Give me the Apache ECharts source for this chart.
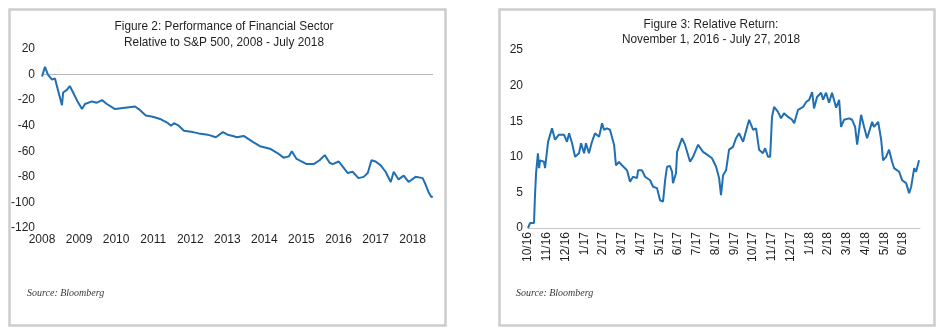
<!DOCTYPE html>
<html>
<head>
<meta charset="utf-8">
<script src="https://cdn.jsdelivr.net/npm/echarts@6/dist/echarts.min.js"></script>
<style>
html,body{margin:0;padding:0;background:#fff;}
#c{width:944px;height:335px;}
</style>
</head>
<body>
<div id="c"></div>
<script>
// ---- Figure 2 data ----
const fig2Years = [2008.00,2008.08,2008.16,2008.27,2008.35,2008.43,2008.54,2008.57,2008.67,2008.75,2008.84,2008.94,2009.08,2009.16,2009.35,2009.48,2009.62,2009.75,2009.97,2010.24,2010.51,2010.61,2010.80,2010.99,2011.21,2011.40,2011.48,2011.56,2011.69,2011.83,2012.07,2012.23,2012.47,2012.69,2012.88,2013.01,2013.15,2013.26,2013.44,2013.71,2013.88,2014.15,2014.33,2014.52,2014.66,2014.74,2014.87,2015.14,2015.33,2015.49,2015.63,2015.76,2015.84,2016.01,2016.25,2016.38,2016.54,2016.68,2016.79,2016.89,2017.00,2017.14,2017.27,2017.41,2017.49,2017.62,2017.76,2017.89,2018.08,2018.27,2018.35,2018.43,2018.51,2018.54];
const fig2Values = [-1.5,6,0,-4,-3,-12,-24,-14,-12,-9,-14,-20,-27,-23,-21,-22,-20,-23,-27,-26,-25,-27,-32,-33,-35,-38,-40,-38,-40,-44,-45,-46,-47,-49,-45,-47,-48,-49,-48,-53,-56,-58,-61,-65,-64,-60,-66,-70,-70,-67,-63,-69,-70,-68,-77,-76,-81,-80,-77,-67,-68,-71,-76,-84,-76,-82,-79,-84,-80,-81,-86,-92,-96,-95];
const fig2XLabels = ['2008','2009','2010','2011','2012','2013','2014','2015','2016','2017','2018'];

// ---- Figure 3 data (x = months after start, 0 = "10/16" tick) ----
const fig3Months = [0,0.11,0.32,0.37,0.43,0.53,0.59,0.64,0.85,0.91,1.07,1.28,1.44,1.65,1.92,2.08,2.19,2.35,2.51,2.72,2.83,2.99,3.09,3.25,3.41,3.57,3.79,3.95,4.05,4.21,4.37,4.59,4.69,4.85,5.01,5.17,5.28,5.44,5.60,5.81,5.87,6.08,6.24,6.51,6.67,6.88,7.04,7.20,7.31,7.41,7.57,7.68,7.73,7.89,7.95,8.21,8.37,8.64,8.80,9.07,9.33,9.55,9.81,10.03,10.19,10.29,10.40,10.56,10.72,10.93,11.09,11.25,11.47,11.57,11.79,12.00,12.16,12.32,12.53,12.64,12.80,12.91,13.01,13.12,13.33,13.49,13.65,13.87,14.08,14.19,14.40,14.67,14.83,14.99,15.15,15.25,15.41,15.63,15.73,15.89,16.05,16.21,16.43,16.59,16.69,16.85,17.12,17.28,17.44,17.55,17.76,17.92,18.08,18.35,18.45,18.67,18.83,18.93,19.09,19.25,19.41,19.52,19.79,19.95,20.16,20.32,20.43,20.59,20.69,20.85];
const fig3Values = [0,0.7,0.7,4.4,7.7,10.5,8.4,9.5,9.3,8.4,12.1,14.0,12.4,13.1,13.1,12.1,13.3,11.9,10.0,10.5,11.9,10.5,11.9,10.5,12.1,13.3,12.8,14.7,13.8,14.0,13.8,11.7,8.8,9.3,8.8,8.4,8.1,6.5,7.2,7.0,8.1,8.1,7.2,6.7,5.8,5.6,3.9,3.7,6.7,8.6,8.7,7.9,6.3,7.7,10.7,12.6,11.7,9.3,10.0,11.7,10.7,10.3,9.8,8.6,7.0,4.6,7.4,8.1,11.0,11.4,12.6,13.3,12.1,13.1,15.2,13.8,14.0,11.0,10.5,11.2,10.0,10.0,15.6,17.0,16.3,15.4,16.1,15.6,15.2,14.7,16.6,17.0,17.7,18.0,19.1,16.8,18.4,19.0,18.0,19.0,17.6,19.0,16.9,18.0,14.2,15.2,15.4,15.2,14.2,11.7,15.9,14.2,12.6,14.9,14.2,14.9,12.4,9.5,10.0,11.0,9.3,8.4,7.9,6.7,6.3,4.9,5.8,8.4,7.9,9.5];
const fig3XLabels = ['10/16','11/16','12/16','1/17','2/17','3/17','4/17','5/17','6/17','7/17','8/17','9/17','10/17','11/17','12/17','1/18','2/18','3/18','4/18','5/18','6/18'];

const titleFont = "'Liberation Sans',Arial,sans-serif";
const tickFont = "'Liberation Sans',Arial,sans-serif";
const serifFont = "'Liberation Serif','Times New Roman',serif";
const lineColor = '#1f6fb2';

function pairs(xs, ys){ const n = Math.min(xs.length, ys.length); const out=[]; for(let i=0;i<n;i++) out.push([xs[i], ys[i]]); return out; }
function isInt(v){ return Math.abs(v - Math.round(v)) < 1e-6; }
function titleText(text, x, y){
  return {type:'text', x:x, y:y, scaleX:0.91, scaleY:1,
    style:{text:text, x:0, y:0, align:'center', verticalAlign:'middle', fontFamily:titleFont, fontSize:13, fill:'#231f20'}};
}

const chart = echarts.init(document.getElementById('c'), null, {renderer:'canvas'});
chart.setOption({
  animation:false,
  backgroundColor:'#fff',
  graphic:[
    {type:'rect', shape:{x:9.5,y:9.5,width:436,height:316}, style:{fill:'#fff',stroke:'#cdcdcd',lineWidth:2.5}, z:-10},
    {type:'rect', shape:{x:499.5,y:9.5,width:435,height:316}, style:{fill:'#fff',stroke:'#cdcdcd',lineWidth:2.5}, z:-10},
    titleText('Figure 2: Performance of Financial Sector', 224, 26),
    titleText('Relative to S&P 500, 2008 - July 2018', 224, 42),
    titleText('Figure 3: Relative Return:', 711, 24),
    titleText('November 1, 2016 - July 27, 2018', 711, 39),
    {type:'text', style:{text:'Source: Bloomberg', x:27, y:293, align:'left', verticalAlign:'middle', fontFamily:serifFont, fontStyle:'italic', fontSize:10, fill:'#3a3a3a'}},
    {type:'text', style:{text:'Source: Bloomberg', x:516, y:293, align:'left', verticalAlign:'middle', fontFamily:serifFont, fontStyle:'italic', fontSize:10, fill:'#3a3a3a'}}
  ],
  grid:[
    {left:42, right:944-433, top:49, bottom:335-228, containLabel:false},
    {left:528, right:944-920, top:50, bottom:335-228, containLabel:false}
  ],
  xAxis:[
    {type:'value', gridIndex:0, min:2008, max:2018.55, interval:1,
     axisLine:{show:false}, axisTick:{show:false}, splitLine:{show:false},
     axisLabel:{margin:6, fontFamily:tickFont, fontSize:12, color:'#231f20',
       formatter:v => isInt(v) ? (fig2XLabels[Math.round(v)-2008] || '') : ''}},
    {type:'value', gridIndex:1, min:0, max:20.9, interval:1,
     axisLine:{show:true, onZero:false, lineStyle:{color:'#c8c8c8', width:1}}, axisTick:{show:false}, splitLine:{show:false},
     axisLabel:{margin:4, rotate:90, fontFamily:tickFont, fontSize:12, color:'#231f20',
       formatter:v => isInt(v) ? (fig3XLabels[Math.round(v)] || '') : ''}}
  ],
  yAxis:[
    {type:'value', gridIndex:0, min:-120, max:20, interval:20,
     axisLine:{show:false}, axisTick:{show:false}, splitLine:{show:false},
     axisLabel:{margin:7, fontFamily:tickFont, fontSize:12, color:'#231f20'}},
    {type:'value', gridIndex:1, min:0, max:25, interval:5,
     axisLine:{show:false}, axisTick:{show:false}, splitLine:{show:false},
     axisLabel:{margin:5, fontFamily:tickFont, fontSize:12, color:'#231f20'}}
  ],
  series:[
    {type:'line', xAxisIndex:0, yAxisIndex:0, data:pairs(fig2Years, fig2Values), showSymbol:false, symbol:'none',
     lineStyle:{color:lineColor, width:2}, itemStyle:{color:lineColor}, z:3,
     markLine:{silent:true, symbol:['none','none'], label:{show:false}, lineStyle:{color:'#b8b8b8', width:1, type:'solid'}, data:[{yAxis:0}], z:1}},
    {type:'line', xAxisIndex:1, yAxisIndex:1, data:pairs(fig3Months, fig3Values), showSymbol:false, symbol:'none',
     lineStyle:{color:lineColor, width:2}, itemStyle:{color:lineColor}, z:3}
  ]
});
</script>
</body>
</html>
